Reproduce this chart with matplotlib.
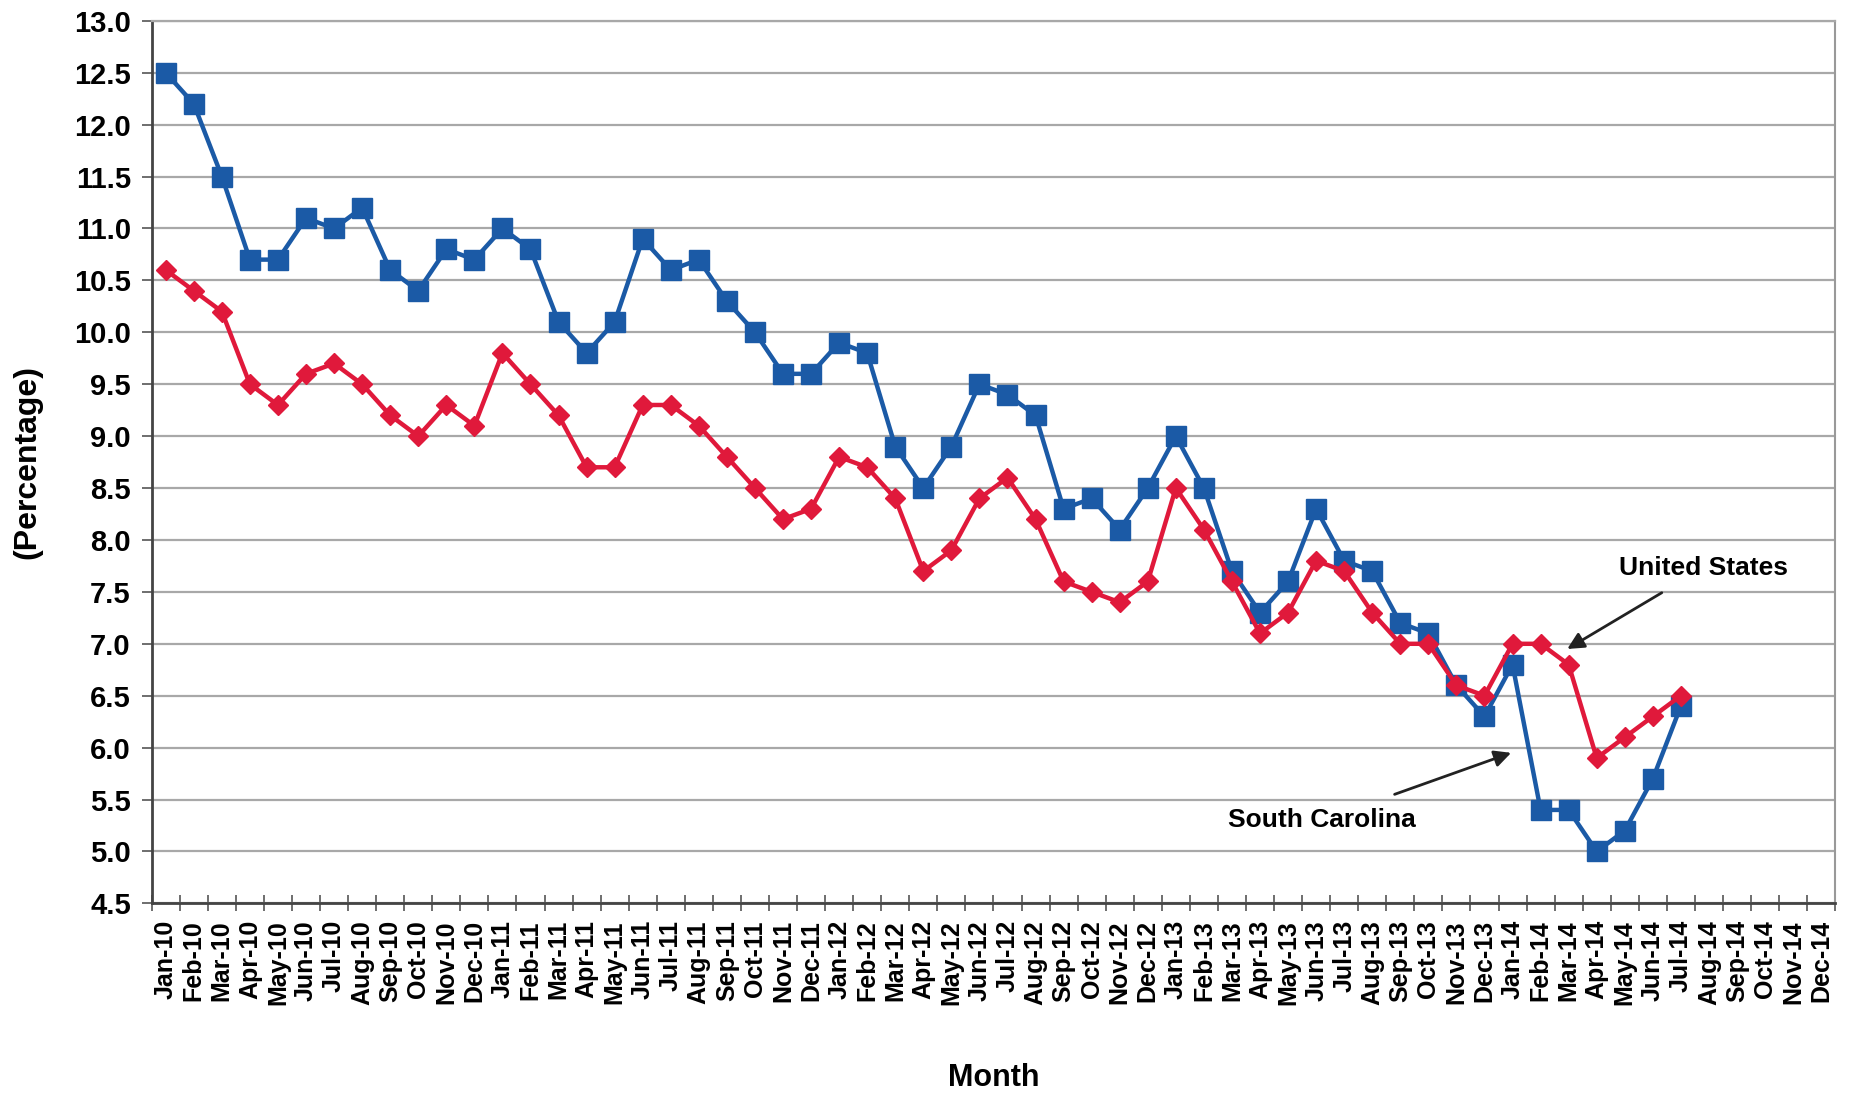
import matplotlib
matplotlib.use("Agg")
import matplotlib.pyplot as plt
import numpy as np

plt.rcParams['font.family'] = ['Liberation Sans', 'DejaVu Sans']

# meses Jan-10 .. Dec-14
years = ['10', '11', '12', '13', '14']
month_names = ['Jan', 'Feb', 'Mar', 'Apr', 'May', 'Jun',
               'Jul', 'Aug', 'Sep', 'Oct', 'Nov', 'Dec']
months = [m + '-' + y for y in years for m in month_names]

# South Carolina (Jan-10 .. Jul-14)
sc_rate = [12.5, 12.2, 11.5, 10.7, 10.7, 11.1, 11.0, 11.2, 10.6, 10.4, 10.8, 10.7,
           11.0, 10.8, 10.1, 9.8, 10.1, 10.9, 10.6, 10.7, 10.3, 10.0, 9.6, 9.6,
           9.9, 9.8, 8.9, 8.5, 8.9, 9.5, 9.4, 9.2, 8.3, 8.4, 8.1, 8.5,
           9.0, 8.5, 7.7, 7.3, 7.6, 8.3, 7.8, 7.7, 7.2, 7.1, 6.6, 6.3,
           6.8, 5.4, 5.4, 5.0, 5.2, 5.7, 6.4]

# United States (Jan-10 .. Jul-14)
us_rate = [10.6, 10.4, 10.2, 9.5, 9.3, 9.6, 9.7, 9.5, 9.2, 9.0, 9.3, 9.1,
           9.8, 9.5, 9.2, 8.7, 8.7, 9.3, 9.3, 9.1, 8.8, 8.5, 8.2, 8.3,
           8.8, 8.7, 8.4, 7.7, 7.9, 8.4, 8.6, 8.2, 7.6, 7.5, 7.4, 7.6,
           8.5, 8.1, 7.6, 7.1, 7.3, 7.8, 7.7, 7.3, 7.0, 7.0, 6.6, 6.5,
           7.0, 7.0, 6.8, 5.9, 6.1, 6.3, 6.5]

blue = '#1b5aa6'
red = '#e0193b'

fig = plt.figure(figsize=(18.5, 10.95), dpi=100)
ax = fig.add_axes([0.082, 0.175, 0.91, 0.806])

x_sc = np.arange(len(sc_rate))
x_us = np.arange(len(us_rate))
ax.plot(x_sc, sc_rate, color=blue, linewidth=3.2, marker='s', markersize=14,
        markerfacecolor=blue, markeredgecolor=blue, zorder=3)
ax.plot(x_us, us_rate, color=red, linewidth=3.2, marker='D', markersize=10.5,
        markerfacecolor=red, markeredgecolor=red, zorder=4)

# ejes
ax.set_xlim(-0.5, len(months) - 0.5)
ax.set_ylim(4.5, 13.0)
ax.set_yticks(np.arange(4.5, 13.01, 0.5))
ax.set_yticklabels([f'{v:.1f}' for v in np.arange(4.5, 13.01, 0.5)],
                   fontsize=21, fontweight='bold')
ax.set_xticks(np.arange(len(months)))
ax.set_xticklabels(months, rotation=90, fontsize=18, fontweight='bold')
ax.set_xticks(np.arange(len(months) + 1) - 0.5, minor=True)
ax.tick_params(axis='x', which='major', length=0, pad=12)
ax.tick_params(axis='x', which='minor', direction='inout', length=12,
               width=1.2, color='#555555')
ax.tick_params(axis='y', direction='out', length=7, width=1.2,
               color='#555555', pad=8)

ax.grid(axis='y', color='#a8a8a8', linewidth=1.6)
ax.set_axisbelow(True)
for side in ['left', 'bottom']:
    ax.spines[side].set_color('#444444')
    ax.spines[side].set_linewidth(2)
ax.spines['right'].set_color('#999999')
ax.spines['right'].set_linewidth(1.5)
ax.spines['top'].set_color('#a8a8a8')
ax.spines['top'].set_linewidth(1.6)

ax.set_xlabel('Month', fontsize=22, fontweight='bold', labelpad=42)
ax.set_ylabel('(Percentage)', fontsize=23, fontweight='bold', labelpad=23)

# anotaciones
ax.annotate('United States', xy=(49.95, 6.95), xytext=(54.8, 7.73),
            fontsize=19, fontweight='bold', ha='center', va='center',
            arrowprops=dict(arrowstyle='-|>', color='#222222', lw=2,
                            mutation_scale=25, shrinkA=14, shrinkB=0))
ax.annotate('South Carolina', xy=(47.95, 5.95), xytext=(41.2, 5.3),
            fontsize=19, fontweight='bold', ha='center', va='center',
            arrowprops=dict(arrowstyle='-|>', color='#222222', lw=2,
                            mutation_scale=25, shrinkA=24, shrinkB=0))

plt.savefig('out.png', dpi=100)
